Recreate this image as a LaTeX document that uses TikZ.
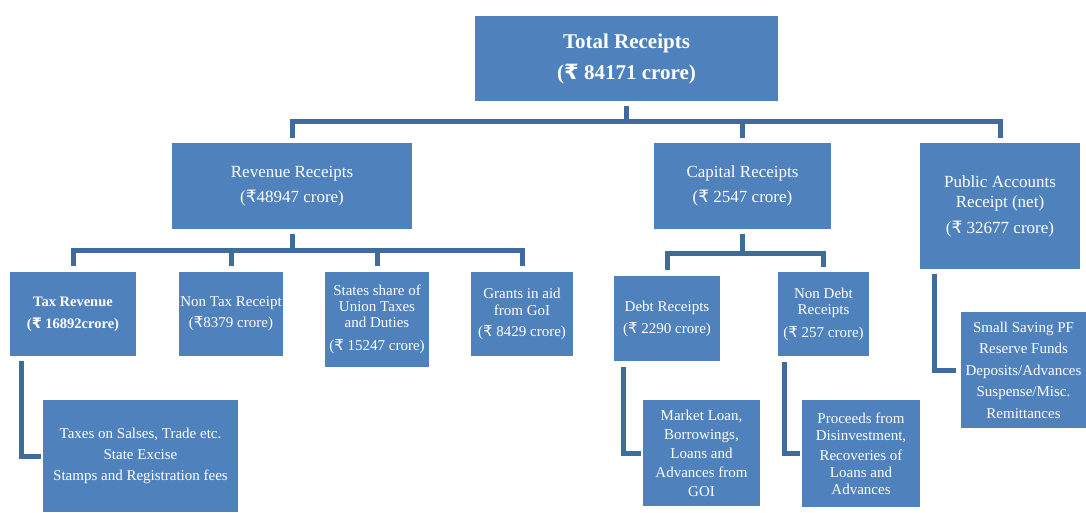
\documentclass[tikz,border=0pt]{standalone}
\usepackage{fontspec}
\setmainfont{Liberation Serif}
\newfontfamily\rupfont{DejaVu Sans}
\newcommand{\Rs}{{\rupfont ₹}}
\definecolor{boxblue}{RGB}{79,129,189}
\definecolor{linkblue}{RGB}{64,108,156}
\begin{document}
\begin{tikzpicture}[x=1pt,y=-1pt,
  box/.style={fill=boxblue, text=white, align=center, inner sep=0pt, anchor=center},
  big/.style={font=\fontsize{21}{31}\selectfont\bfseries},
  mid/.style={font=\fontsize{17}{25}\selectfont},
  sml/.style={font=\fontsize{15}{21}\selectfont},
  link/.style={draw=linkblue, line width=5pt}]
\useasboundingbox (0,0) rectangle (1086,513);

% level 0
\node[box,big,minimum width=303pt,minimum height=85pt] (total) at (626.5,58.5)
  {Total Receipts\\(\Rs{} 84171 crore)};
% level 1
\node[box,mid,minimum width=240pt,minimum height=86pt] (rev) at (292,186)
  {Revenue Receipts\\(\Rs48947 crore)};
\node[box,mid,minimum width=177pt,minimum height=86pt] (cap) at (742.5,186)
  {Capital Receipts\\(\Rs{} 2547 crore)};
\node[box,font=\fontsize{17}{20}\selectfont,minimum width=160pt,minimum height=126pt] (pub) at (1000,206)
  {Public Accounts\\Receipt (net)\\[6pt](\Rs{} 32677 crore)};
% level 2
\node[box,font=\fontsize{14.5}{22}\selectfont\bfseries,minimum width=126pt,minimum height=84pt] (tax) at (73,314)
  {Tax Revenue\\(\Rs{} 16892crore)};
\node[box,sml,minimum width=104pt,minimum height=84pt] (nontax) at (231,314)
  {Non Tax Receipt\\(\Rs8379 crore)};
\node[box,font=\fontsize{15}{16}\selectfont,minimum width=104pt,minimum height=95pt] (states) at (377,319.5)
  {States share of\\Union Taxes\\and Duties\\[7pt](\Rs{} 15247 crore)};
\node[box,font=\fontsize{15}{17}\selectfont,minimum width=102pt,minimum height=84pt] (grants) at (522,314)
  {Grants in aid\\from GoI\\[4pt](\Rs{} 8429 crore)};
\node[box,font=\fontsize{15}{22}\selectfont,minimum width=106pt,minimum height=85pt] (debt) at (667,318.5)
  {Debt Receipts\\(\Rs{} 2290 crore)};
\node[box,font=\fontsize{15}{16}\selectfont,minimum width=91pt,minimum height=84pt] (nondebt) at (823.5,314)
  {Non Debt\\Receipts\\[7pt](\Rs{} 257 crore)};
% level 3
\node[box,sml,minimum width=195pt,minimum height=112pt] (taxes) at (140.5,456)
  {Taxes on Salses, Trade etc.\\State Excise\\Stamps and Registration fees};
\node[box,font=\fontsize{15}{19}\selectfont,minimum width=117pt,minimum height=106pt] (market) at (701.5,453)
  {Market Loan,\\Borrowings,\\Loans and\\Advances from\\GOI};
\node[box,font=\fontsize{15}{17}\selectfont,minimum width=118pt,minimum height=107pt] (proceeds) at (861,453.5)
  {Proceeds from\\Disinvestment,\\[3pt]Recoveries of\\Loans and\\Advances};
\node[box,font=\fontsize{15}{21.5}\selectfont,minimum width=125pt,minimum height=116pt] (small) at (1023.5,370)
  {Small Saving PF\\Reserve Funds\\Deposits/Advances\\Suspense/Misc.\\Remittances};

% connectors
\coordinate (busA) at (626.5,122);
\coordinate (busB) at (292,250);
\coordinate (busC) at (742.5,253);
\draw[link,shorten <=5pt] (total.south) -- (busA);
\draw[link,shorten >=5pt] (busA) -| (rev.north);
\draw[link,shorten >=5pt] (busA) -| (cap.north);
\draw[link,shorten >=5pt] (busA) -| (pub.north);

\draw[link,shorten <=5pt] (rev.south) -- (busB);
\draw[link,shorten >=6pt] (busB) -| (tax.north);
\draw[link,shorten >=6pt] (busB) -| (nontax.north);
\draw[link,shorten >=6pt] (busB) -| (states.north);
\draw[link,shorten >=6pt] (busB) -| (grants.north);

\draw[link,shorten <=5pt] (cap.south) -- (busC);
\draw[link,shorten >=6pt] (busC) -| (debt.north);
\draw[link,shorten >=5pt] (busC) -| (nondebt.north);

\draw[link,shorten <=5pt,shorten >=2pt] ([xshift=-52pt]tax.south) |- (taxes.west);
\draw[link,shorten <=6pt,shorten >=2pt] ([xshift=-44pt]debt.south) |- (market.west);
\draw[link,shorten <=6pt,shorten >=2pt] ([xshift=-39.5pt]nondebt.south) |- (proceeds.west);
\draw[link,shorten <=5pt,shorten >=5pt] ([xshift=-66pt]pub.south) |- (small.west);
\end{tikzpicture}
\end{document}
